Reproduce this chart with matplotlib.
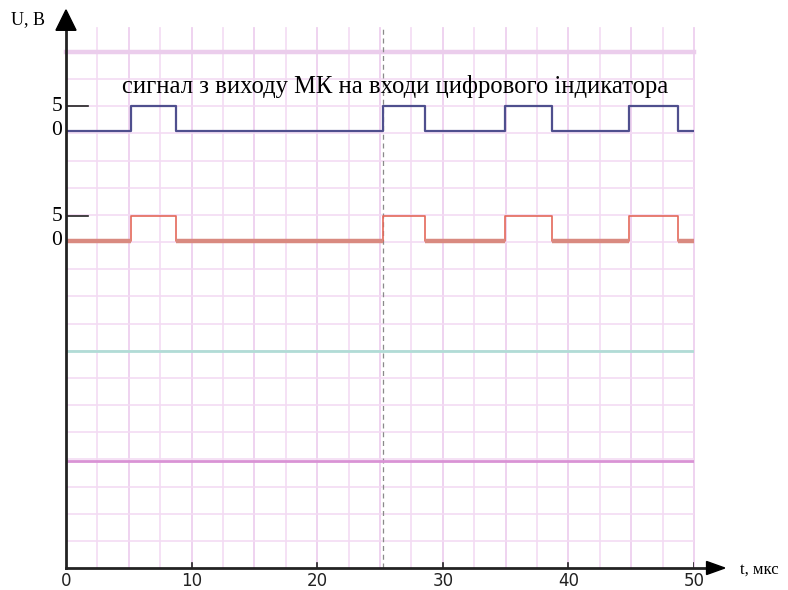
"""Timing diagram: MCU output signals to the digital indicator inputs."""
import numpy as np
from matplotlib import pyplot as plt

# switching instants of the pulse train, us
edge_times = [0, 5.15, 8.75, 25.25, 28.6, 34.95, 38.7, 44.85, 48.75, 50]
# logic level after each instant (0 -> 0 V, 1 -> 5 V)
edge_levels = [0, 1, 0, 1, 0, 1, 0, 1, 0, 0]

x_ticks = [0, 10, 20, 30, 40, 50]
x_tick_labels = ['0', '10', '20', '30', '40', '50']
level_labels = ['0', '5']
title_text = 'сигнал з виходу МК на входи цифрового індикатора'
y_axis_label = 'U, В'
x_axis_label = 't, мкс'
marker_time = 25.2

# vertical placement of the traces (grid cells from the time axis)
top_base, bottom_base, step_h = 16.1, 12.05, 0.9
flat_lines = [(8.0, '#b1dcd6'), (3.95, '#d993d5')]

fig = plt.figure(figsize=(7.88, 5.90), dpi=100)
ax = fig.add_axes([66 / 788, 1 - 568 / 590, 628 / 788, 516 / 590])
ax.set_xlim(0, 50)
ax.set_ylim(0, 19)
ax.axis('off')

serif = 'Liberation Serif'

# millimetre-paper style grid
for k, t in enumerate(np.arange(2.5, 50.01, 2.5)):
    col = '#eed0ef' if k % 2 else '#f4def5'
    ax.plot([t, t], [0, 19.9], color=col, lw=1.3, clip_on=False, zorder=1)
for y in range(1, 19):
    ax.plot([0, 50], [y, y], color='#f3dbf3', lw=1.2, zorder=1)
ax.plot([0, 50], [19, 19], color='#ebcdec', lw=3.2, clip_on=False, zorder=1)

# dashed marker
ax.plot([marker_time, marker_time], [0, 19.9], color='#8a8a8a', lw=0.9,
        ls=(0, (4, 3)), clip_on=False, zorder=3)

# top trace
lv = np.array(edge_levels)
ax.step(edge_times, top_base + step_h * lv, where='post', color='#4f4f8e',
        lw=1.6, zorder=4)

# bottom trace: thin step, thick low segments
ax.step(edge_times, bottom_base + step_h * lv, where='post', color='#e4685a',
        lw=1.2, zorder=4)
for i in range(len(edge_times) - 1):
    if edge_levels[i] == 0:
        ax.plot([edge_times[i], edge_times[i + 1]], [bottom_base, bottom_base],
                color='#d98a80', lw=3.2, solid_capstyle='butt', zorder=4)

for y, col in flat_lines:
    ax.plot([0, 50], [y, y], color=col, lw=2.0, zorder=4)

# axes with arrows
ax.plot([0, 0], [0, 19.85], color='#222222', lw=2.0, clip_on=False, zorder=5)
ax.fill([-0.8, 0.8, 0], [19.8, 19.8, 20.55], color='black', clip_on=False,
        zorder=5)
ax.plot([0, 51.1], [0, 0], color='#222222', lw=2.0, clip_on=False, zorder=5)
ax.fill([51.0, 51.0, 52.45], [-0.24, 0.24, 0], color='black', clip_on=False,
        zorder=5)

for t, lab in zip(x_ticks, x_tick_labels):
    if t > 0:
        ax.plot([t, t], [0, 0.2], color='#222222', lw=1.2, zorder=5)
    ax.text(t, -0.47, lab, ha='center', va='center', fontsize=12,
            family='DejaVu Sans', color='#222222')

for base in (top_base, bottom_base):
    ax.plot([0, 1.75], [base + step_h, base + step_h], color='#222222',
            lw=1.2, zorder=5)
    ax.text(-0.3, base, level_labels[0], ha='right', va='center',
            fontsize=15.5, family=serif)
    ax.text(-0.3, base + step_h, level_labels[1], ha='right', va='center',
            fontsize=15.5, family=serif)

ax.text(26.2, 17.72, title_text, ha='center', va='center', fontsize=17.7,
        family=serif)
ax.text(-4.35, 20.2, y_axis_label, ha='left', va='center', fontsize=13,
        family=serif)
ax.text(53.7, -0.05, x_axis_label, ha='left', va='center', fontsize=12,
        family=serif)

fig.savefig('out.png', dpi=100)
